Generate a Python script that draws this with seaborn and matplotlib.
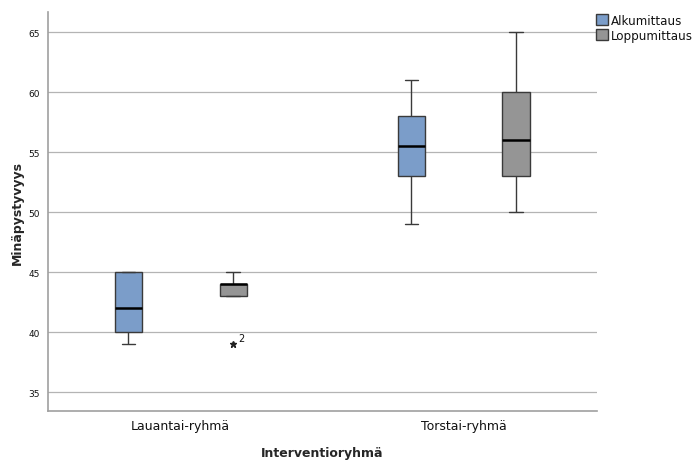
import pandas as pd
import matplotlib
matplotlib.use('Agg')
import matplotlib.pyplot as plt
import seaborn as sns

# Havainnot ryhmittäin (arvioitu kuvasta)
ryhmat = ['Lauantai-ryhmä', 'Torstai-ryhmä']
mittaukset = ['Alkumittaus', 'Loppumittaus']
lauantai_alku = [39, 40, 42, 45, 45]
lauantai_loppu = [39, 43, 44, 44, 45]
torstai_alku = [49, 51, 53, 53, 55, 56, 58, 58, 60, 61]
torstai_loppu = [50, 52, 53, 53, 55, 57, 60, 60, 62, 65]
poikkeava_tunnus = '2'

rivit = []
for arvot, ryhma, mittaus in [
    (lauantai_alku, ryhmat[0], mittaukset[0]),
    (lauantai_loppu, ryhmat[0], mittaukset[1]),
    (torstai_alku, ryhmat[1], mittaukset[0]),
    (torstai_loppu, ryhmat[1], mittaukset[1]),
]:
    for a in arvot:
        rivit.append({'Interventioryhmä': ryhma, 'Mittaus': mittaus, 'Minäpystyvyys': a})
df = pd.DataFrame(rivit)

sns.set_style('white')
plt.rcParams['font.family'] = ['DejaVu Sans']
plt.rcParams['text.color'] = '#111111'
plt.rcParams['xtick.color'] = '#111111'
plt.rcParams['ytick.color'] = '#111111'

fig = plt.figure(figsize=(6.93, 4.64), dpi=100)
ax = fig.add_axes([0.069, 0.112, 0.792, 0.86])

ax.grid(axis='y', color='#b4b4b4', linewidth=0.9, zorder=0)
ax.set_axisbelow(True)

sns.boxplot(data=df, x='Interventioryhmä', y='Minäpystyvyys', hue='Mittaus',
            order=ryhmat, hue_order=mittaukset,
            palette=['#7b9dc9', '#959595'], saturation=1, width=0.74, gap=0.74,
            linecolor='#3a3a3a', linewidth=1.0,
            medianprops={'color': 'black', 'linewidth': 1.8},
            flierprops={'marker': '*', 'markersize': 5, 'markerfacecolor': '#222222',
                        'markeredgecolor': '#222222'},
            ax=ax)

# tapausnumero poikkeavan havainnon viereen
ax.annotate(poikkeava_tunnus, xy=(0.185, min(lauantai_loppu)), xytext=(4, 2),
            textcoords='offset points', fontsize=7)

ax.set_ylim(33.42, 66.67)
ax.set_xlim(-0.47, 1.47)
ax.set_yticks([35, 40, 45, 50, 55, 60, 65])
ax.tick_params(axis='y', labelsize=6.5, length=0, pad=6)
ax.tick_params(axis='x', labelsize=9, length=0, pad=6)
for s in ['top', 'right']:
    ax.spines[s].set_visible(False)
for s in ['left', 'bottom']:
    ax.spines[s].set_color('#a0a0a0')
    ax.spines[s].set_linewidth(1.2)

ax.set_xlabel('Interventioryhmä', fontsize=9, fontweight='bold', labelpad=10)
ax.set_ylabel('Minäpystyvyys', fontsize=9, fontweight='bold', labelpad=3)

sns.move_legend(ax, 'upper left', bbox_to_anchor=(0.998, 0.995), frameon=False,
                title=None, fontsize=8.6, handlelength=1.05, handleheight=1.05,
                handletextpad=0.2, labelspacing=0.15, borderaxespad=0, borderpad=0)

fig.savefig('out.png', dpi=100)
